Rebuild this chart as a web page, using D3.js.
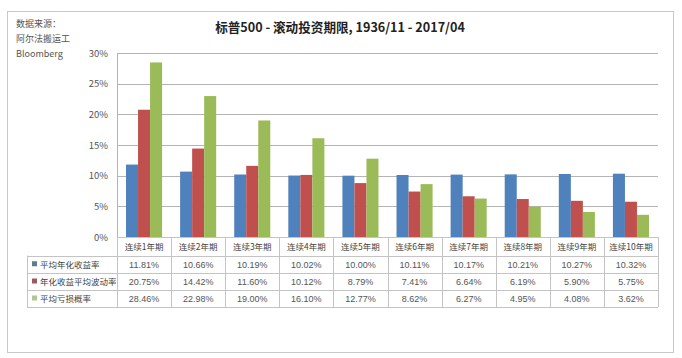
<!DOCTYPE html>
<html><head><meta charset="utf-8">
<script src="https://cdn.jsdelivr.net/npm/d3@7"></script>
<style>
body{margin:0;background:#fff;}
svg{display:block;font-family:"Noto Sans CJK SC","Microsoft YaHei",sans-serif;}
</style></head>
<body>
<svg id="c" width="682" height="358"></svg>
<script>
const categories = ["连续1年期","连续2年期","连续3年期","连续4年期","连续5年期","连续6年期","连续7年期","连续8年期","连续9年期","连续10年期"];
const seriesNames = ["平均年化收益率","年化收益平均波动率","平均亏损概率"];
const avgReturn = [11.81,10.66,10.19,10.02,10.00,10.11,10.17,10.21,10.27,10.32];
const avgVol = [20.75,14.42,11.60,10.12,8.79,7.41,6.64,6.19,5.90,5.75];
const lossProb = [28.46,22.98,19.00,16.10,12.77,8.62,6.27,4.95,4.08,3.62];
const yTicks = [0,5,10,15,20,25,30];
const colors = ["#4F81BD","#C0504D","#9BBB59"];
const legendColors = ["#5a7f86","#9a5a60","#b3c596"];
const series = [avgReturn, avgVol, lossProb];

(function(){
const svg = d3.select("#c");
svg.append("rect").attr("x",7.5).attr("y",11.5).attr("width",666).attr("height",341)
  .attr("fill","#fff").attr("stroke","#c8c8c8");

const src = ["数据来源：","阿尔法搬运工","Bloomberg"];
svg.selectAll(".src").data(src).enter().append("text")
  .attr("x",16).attr("y",(d,i)=>27+i*15).attr("font-size",9).attr("fill","#555").text(d=>d);

svg.append("text").attr("x",340).attr("y",32).attr("text-anchor","middle")
  .attr("font-size",12.6).attr("font-weight","bold").attr("fill","#222")
  .text("标普500 - 滚动投资期限, 1936/11 - 2017/04");

const pL=117, pR=658, pT=53, pB=237;
const x = d3.scaleBand().domain(categories).range([pL,pR]).paddingInner(0).paddingOuter(0);
const x1 = d3.scaleBand().domain([0,1,2]).range([0,x.bandwidth()]).paddingInner(0).paddingOuter(0.75);
const y = d3.scaleLinear().domain([0,30]).range([pB,pT]);

svg.append("g").selectAll("line").data(yTicks).enter().append("line")
  .attr("x1",pL).attr("x2",pR).attr("y1",d=>Math.round(y(d))+0.5).attr("y2",d=>Math.round(y(d))+0.5)
  .attr("stroke","#b4b4b4").attr("stroke-width",1);
svg.append("line").attr("x1",pL+0.5).attr("x2",pL+0.5).attr("y1",pT).attr("y2",pB)
  .attr("stroke","#b4b4b4");
const yAxis = d3.axisLeft(y).tickValues(yTicks).tickFormat(d=>d+"%").tickSize(0).tickPadding(9);
const ga = svg.append("g").attr("transform",`translate(${pL},0)`).call(yAxis);
ga.select(".domain").remove();
ga.selectAll("text").attr("font-size",9.5).attr("fill","#555").attr("font-family","'Noto Sans CJK SC',sans-serif");

const groups = svg.append("g").selectAll("g").data(categories).enter().append("g")
  .attr("transform",d=>`translate(${x(d)},0)`);
groups.selectAll("rect").data((d,i)=>series.map((s,j)=>({v:s[i],j}))).enter().append("rect")
  .attr("x",d=>x1(d.j)).attr("width",x1.bandwidth())
  .attr("y",d=>y(d.v)).attr("height",d=>pB-y(d.v)).attr("fill",d=>colors[d.j]);

const tLeft=27, tTop=pB;
const rows = [tTop, tTop+18.5, tTop+36, tTop+53, tTop+70];
const tg = svg.append("g");
const lineColor="#c4c4c4";
tg.append("line").attr("x1",pL).attr("x2",pR).attr("y1",rows[0]+0.5).attr("y2",rows[0]+0.5).attr("stroke",lineColor);
rows.slice(1).forEach(r=>{
  tg.append("line").attr("x1",tLeft).attr("x2",pR).attr("y1",Math.round(r)+0.5).attr("y2",Math.round(r)+0.5).attr("stroke",lineColor);
});
tg.append("line").attr("x1",tLeft+0.5).attr("x2",tLeft+0.5).attr("y1",rows[1]).attr("y2",rows[4]).attr("stroke",lineColor);
const vx = categories.map(c=>x(c)).concat([pR]);
vx.forEach(v=>{
  tg.append("line").attr("x1",Math.round(v)+0.5).attr("x2",Math.round(v)+0.5).attr("y1",rows[0]).attr("y2",rows[4]).attr("stroke",lineColor);
});
tg.selectAll(".cat").data(categories).enter().append("text")
  .attr("x",d=>x(d)+x.bandwidth()/2).attr("y",(rows[0]+rows[1])/2+3.5).attr("text-anchor","middle")
  .attr("font-size",8.5).attr("fill","#444").text(d=>d);
seriesNames.forEach((name,j)=>{
  const yc=(rows[j+1]+rows[j+2])/2;
  tg.append("rect").attr("x",32).attr("y",yc-3).attr("width",5).attr("height",5).attr("fill",legendColors[j]);
  tg.append("text").attr("x",40).attr("y",yc+3.5).attr("font-size",8.5).attr("fill","#444").text(name);
  tg.selectAll(".v"+j).data(series[j]).enter().append("text")
    .attr("x",(d,i)=>x(categories[i])+x.bandwidth()/2).attr("y",yc+3.5).attr("text-anchor","middle")
    .attr("font-size",9).attr("fill","#555").attr("font-family","'Liberation Sans',Arial,sans-serif")
    .text(d=>d.toFixed(2)+"%");
});
})();
</script>
</body></html>
